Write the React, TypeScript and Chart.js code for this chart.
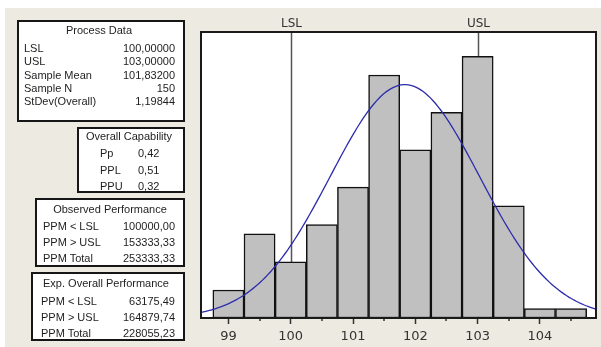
import React, { useEffect, useRef } from "react";
import { Chart, registerables } from "chart.js";

Chart.register(...registerables);

// ---- Data ----
const BIN_CENTERS = [99, 99.5, 100, 100.5, 101, 101.5, 102, 102.5, 103, 103.5, 104, 104.5];
const COUNTS = [3, 9, 6, 10, 14, 26, 18, 22, 28, 12, 1, 1];
const X_TICKS = [99, 100, 101, 102, 103, 104];
const MINOR_TICKS = [99.5, 100.5, 101.5, 102.5, 103.5, 104.5];
const LSL = 100;
const USL = 103;
const SAMPLE_MEAN = 101.832;
const STDEV_OVERALL = 1.19844;
const SAMPLE_N = 150;
const BIN_WIDTH = 0.5;
const X_MIN = 98.56;
const X_MAX = 104.9;
const Y_MAX = 30.6;

const PROCESS_LABELS = ["LSL", "USL", "Sample Mean", "Sample N", "StDev(Overall)"];
const PROCESS_VALUES = ["100,00000", "103,00000", "101,83200", "150", "1,19844"];
const CAP_LABELS = ["Pp", "PPL", "PPU"];
const CAP_VALUES = ["0,42", "0,51", "0,32"];
const OBS_LABELS = ["PPM < LSL", "PPM > USL", "PPM Total"];
const OBS_VALUES = ["100000,00", "153333,33", "253333,33"];
const EXP_LABELS = ["PPM < LSL", "PPM > USL", "PPM Total"];
const EXP_VALUES = ["63175,49", "164879,74", "228055,23"];

// Fitted normal curve (expected count per bin) from the reported mean / stdev
function normalCurve() {
  const pts: { x: number; y: number }[] = [];
  const steps = 160;
  for (let i = 0; i <= steps; i++) {
    const x = X_MIN + ((X_MAX - X_MIN) * i) / steps;
    const z = (x - SAMPLE_MEAN) / STDEV_OVERALL;
    const pdf = Math.exp(-0.5 * z * z) / (STDEV_OVERALL * Math.sqrt(2 * Math.PI));
    pts.push({ x, y: SAMPLE_N * BIN_WIDTH * pdf });
  }
  return pts;
}

const FONT = '"DejaVu Sans", sans-serif';
const BOX_FONT = '"Liberation Sans", Arial, sans-serif';

const specPlugin = {
  id: "spec",
  beforeDraw(chart: any) {
    const { ctx, chartArea: a } = chart;
    ctx.save();
    ctx.fillStyle = "#ffffff";
    ctx.fillRect(a.left, a.top, a.right - a.left, a.bottom - a.top);
    ctx.restore();
  },
  beforeDatasetsDraw(chart: any) {
    const { ctx, chartArea: a, scales } = chart;
    const xs = scales.x;
    ctx.save();
    ctx.strokeStyle = "#555555";
    ctx.lineWidth = 1.5;
    ctx.fillStyle = "#333333";
    ctx.font = `12px ${FONT}`;
    ctx.textAlign = "center";
    ctx.textBaseline = "middle";
    [
      [LSL, "LSL"],
      [USL, "USL"],
    ].forEach(([v, label]) => {
      const px = Math.round(xs.getPixelForValue(v as number)) + 0.5;
      ctx.beginPath();
      ctx.moveTo(px, a.top);
      ctx.lineTo(px, a.bottom);
      ctx.stroke();
      ctx.fillText(label as string, px, a.top - 8);
    });
    ctx.restore();
  },
  afterDraw(chart: any) {
    const { ctx, chartArea: a, scales } = chart;
    const xs = scales.x;
    ctx.save();
    ctx.strokeStyle = "#333333";
    ctx.lineWidth = 1.5;
    MINOR_TICKS.forEach((v) => {
      const px = Math.round(xs.getPixelForValue(v));
      ctx.beginPath();
      ctx.moveTo(px, a.bottom);
      ctx.lineTo(px, a.bottom + 3);
      ctx.stroke();
    });
    ctx.strokeStyle = "#1a1a1a";
    ctx.lineWidth = 2;
    ctx.strokeRect(a.left, a.top, a.right - a.left, a.bottom - a.top);
    ctx.restore();
  },
};

function HistogramChart() {
  const ref = useRef<HTMLCanvasElement>(null);
  useEffect(() => {
    if (!ref.current) return;
    const chart = new Chart(ref.current, {
      type: "bar",
      data: {
        datasets: [
          {
            type: "line",
            data: normalCurve(),
            borderColor: "#2c2cae",
            borderWidth: 1.3,
            pointRadius: 0,
            tension: 0,
            order: 0,
          } as any,
          {
            type: "bar",
            data: BIN_CENTERS.map((x, i) => ({ x, y: COUNTS[i] })),
            backgroundColor: "#c0c0c0",
            borderColor: "#111111",
            borderWidth: 1.5,
            borderSkipped: false,
            barPercentage: 1,
            categoryPercentage: 1,
            order: 1,
          } as any,
        ],
      },
      options: {
        responsive: false,
        animation: false,
        devicePixelRatio: 1,
        layout: { padding: { left: 201, right: 5, top: 32, bottom: 0 } },
        plugins: { legend: { display: false }, tooltip: { enabled: false } },
        scales: {
          x: {
            type: "linear",
            min: X_MIN,
            max: X_MAX,
            offset: false,
            afterBuildTicks: (scale: any) => {
              scale.ticks = X_TICKS.map((v) => ({ value: v }));
            },
            afterFit: (scale: any) => {
              scale.height = 29;
            },
            ticks: {
              autoSkip: false,
              maxRotation: 0,
              padding: 5,
              color: "#333333",
              font: { family: FONT, size: 13 },
              callback: (v: any) => String(v),
            },
            grid: {
              offset: false,
              drawOnChartArea: false,
              drawTicks: true,
              tickLength: 6,
              tickColor: "#333333",
              tickWidth: 1.5,
            },
            border: { display: false },
          },
          y: { display: false, min: 0, max: Y_MAX },
        },
      },
      plugins: [specPlugin],
    });
    return () => chart.destroy();
  }, []);
  return (
    <canvas
      ref={ref}
      width={601}
      height={347}
      style={{ position: "absolute", left: 0, top: 0, width: 601, height: 347 }}
    />
  );
}

type BoxProps = {
  left: number;
  top: number;
  right: number;
  bottom: number;
  title: string;
  titleY: number;
  titleX: number;
  labels: string[];
  values: string[];
  rowYs: number[];
  labelX: number;
  valueX: number;
  valueAlign: "left" | "right";
};

function InfoBox(p: BoxProps) {
  const lh = 14;
  return (
    <>
      <div
        style={{
          position: "absolute",
          left: p.left,
          top: p.top,
          width: p.right - p.left,
          height: p.bottom - p.top,
          boxSizing: "border-box",
          border: "2px solid #161616",
          background: "#ffffff",
        }}
      />
      <div
        style={{
          position: "absolute",
          left: p.titleX - 100,
          width: 200,
          top: p.titleY - lh / 2,
          lineHeight: `${lh}px`,
          textAlign: "center",
          whiteSpace: "nowrap",
        }}
      >
        {p.title}
      </div>
      {p.labels.map((l, i) => (
        <React.Fragment key={i}>
          <div
            style={{
              position: "absolute",
              left: p.labelX,
              top: p.rowYs[i] - lh / 2,
              lineHeight: `${lh}px`,
              whiteSpace: "nowrap",
            }}
          >
            {l}
          </div>
          <div
            style={{
              position: "absolute",
              ...(p.valueAlign === "right"
                ? { left: p.valueX - 100, width: 100, textAlign: "right" as const }
                : { left: p.valueX }),
              top: p.rowYs[i] - lh / 2,
              lineHeight: `${lh}px`,
              whiteSpace: "nowrap",
            }}
          >
            {p.values[i]}
          </div>
        </React.Fragment>
      ))}
    </>
  );
}

export default function App() {
  return (
    <div
      style={{
        position: "fixed",
        left: 0,
        top: 0,
        width: 601,
        height: 347,
        background: "#ffffff",
        overflow: "hidden",
        fontFamily: BOX_FONT,
        fontSize: 11,
        color: "#1e1e1e",
      }}
    >
      <div
        style={{ position: "absolute", left: 5, top: 8, right: 0, bottom: 0, background: "#edeae1" }}
      />
      <HistogramChart />
      <InfoBox
        left={17}
        top={20}
        right={185}
        bottom={122}
        title="Process Data"
        titleX={99}
        titleY={30}
        labels={PROCESS_LABELS}
        values={PROCESS_VALUES}
        rowYs={[48, 61.3, 74.7, 88, 101.3]}
        labelX={24}
        valueX={175}
        valueAlign="right"
      />
      <InfoBox
        left={77}
        top={127}
        right={185}
        bottom={193}
        title="Overall Capability"
        titleX={129}
        titleY={136}
        labels={CAP_LABELS}
        values={CAP_VALUES}
        rowYs={[153, 169.5, 186]}
        labelX={100}
        valueX={138}
        valueAlign="left"
      />
      <InfoBox
        left={35}
        top={198}
        right={185}
        bottom={267}
        title="Observed Performance"
        titleX={110}
        titleY={209}
        labels={OBS_LABELS}
        values={OBS_VALUES}
        rowYs={[225.5, 241.5, 258]}
        labelX={43}
        valueX={175}
        valueAlign="right"
      />
      <InfoBox
        left={31}
        top={272}
        right={185}
        bottom={341}
        title="Exp. Overall Performance"
        titleX={106}
        titleY={283}
        labels={EXP_LABELS}
        values={EXP_VALUES}
        rowYs={[300.5, 317, 333]}
        labelX={41}
        valueX={175}
        valueAlign="right"
      />
    </div>
  );
}
